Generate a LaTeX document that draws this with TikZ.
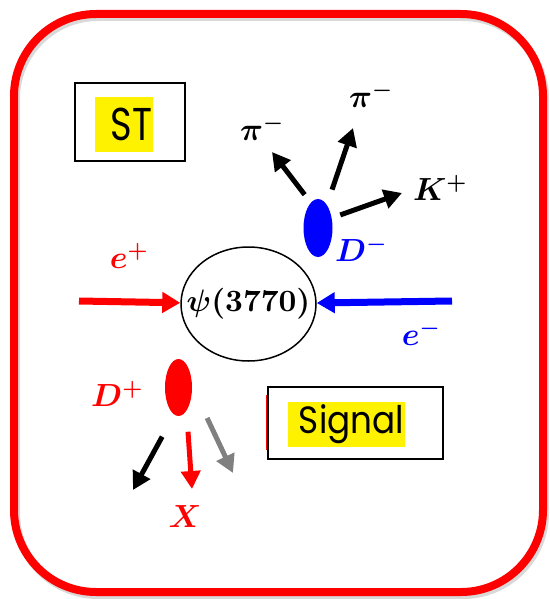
\documentclass[tikz,border=0pt]{standalone}
\usepackage{amsmath,amssymb}
\usepackage{fontspec}
\usepackage{graphicx}
\usepackage{tikz}
\usetikzlibrary{arrows.meta,shapes.geometric}
\newfontfamily\tagfont{Poppins}
\DeclareFontShape{OT1}{cmr}{m}{n}{<->cmr10}{}
\DeclareFontShape{OT1}{cmr}{bx}{n}{<->cmbx10}{}
\DeclareFontShape{OML}{cmm}{m}{it}{<->cmmi10}{}
\DeclareFontShape{OML}{cmm}{b}{it}{<->cmmib10}{}
\DeclareFontShape{OMS}{cmsy}{m}{n}{<->cmsy10}{}
\DeclareFontShape{OMS}{cmsy}{b}{n}{<->cmbsy10}{}
\tikzset{
  lbl/.style={font=\fontsize{32}{36}\selectfont\boldmath,inner sep=0pt},
  blob/.style={ellipse,inner sep=0pt},
  tagbox/.style={draw=black,line width=2pt,inner sep=0pt},
  hl/.style={fill=yellow,inner sep=0pt},
  arr/.style={-{Triangle[length=18pt,width=19pt]},line width=5pt},
  beam/.style={-{Triangle[length=18pt,width=20pt]},line width=7pt},
}

\begin{document}
\begin{tikzpicture}[x=1pt,y=-1pt]
\useasboundingbox (0,0) rectangle (549,599);
% frame
\draw[gray!30,line width=8pt,rounded corners=82pt] (16,17) rectangle (545,595);
\draw[red,line width=8pt,rounded corners=82pt] (14,14) rectangle (543,592);
% tags
\node[tagbox,minimum width=110pt,minimum height=78pt] (stbox) at (130,122) {};
\node[hl,inner xsep=1pt,text width=56pt,align=right,minimum height=55pt,font=\tagfont\fontsize{46}{50}\selectfont] (st) at (124,124.5) {\scalebox{0.8}[1]{ST}};
\node[tagbox,minimum width=175pt,minimum height=72pt] (sigbox) at (355.5,423) {};
\node[hl,inner xsep=1pt,text width=115pt,align=right,minimum height=45pt,font=\tagfont\fontsize{38}{42}\selectfont] (sig) at (346.5,424.5) {\scalebox{0.9}[1]{Signal}};
\draw[red,line width=1pt] (266.5,395) -- (266.5,450);
% collision
\node[ellipse,draw,line width=1.5pt,minimum width=135pt,minimum height=114pt,inner sep=0pt,
  font=\fontsize{31}{34}\selectfont\boldmath] (psi) at (248.5,304) {\makebox[0pt]{$\psi(3770)$}};
\coordinate (ep) at (79,301);
\coordinate (em) at (452,301);
\draw[beam,red] (ep) -- (psi);
\draw[beam,blue] (em) -- (psi);
\node[lbl,text=red] (epl) at (129,256) {$e^+$};
\node[lbl,text=blue] (eml) at (421,333) {$e^-$};
% tag side
\node[blob,fill=blue,minimum width=29pt,minimum height=58pt] (dm) at (318,228) {};
\node[lbl,text=blue] (dml) at (361,249) {$D^-$};
\node[lbl] (pia) at (262,128) {$\pi^-$};
\node[lbl] (pib) at (371,95) {$\pi^-$};
\node[lbl] (kp) at (440,188) {$K^+$};
\coordinate (ta) at (272,152);
\coordinate (tb) at (353,128);
\coordinate (tk) at (402,193);
\draw[arr,shorten <=10pt] (dm.106) -- (ta);
\draw[arr,shorten <=16pt] (dm.69) -- (tb);
\draw[arr,shorten <=9pt] (dm.36) -- (tk);
% signal side
\node[blob,fill=red,minimum width=27pt,minimum height=57pt] (dp) at (178.5,387.5) {};
\node[lbl,text=red] (dpl) at (117,394) {$D^+$};
\node[lbl,text=red] (xl) at (185,517) {$X$};
\coordinate (tbk) at (133,490);
\coordinate (tx) at (192,489);
\coordinate (tg) at (233,473);
\draw[arr,shorten <=25pt] (dp.-99) -- (tbk);
\draw[arr,red,shorten <=21pt] (dp.-71) -- (tx);
\draw[arr,gray,shorten <=35pt] (dp.5) -- (tg);
\end{tikzpicture}
\end{document}
